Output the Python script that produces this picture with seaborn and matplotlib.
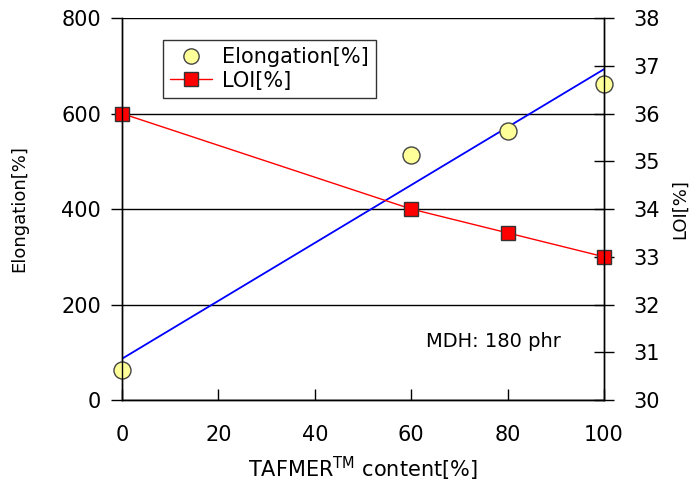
import matplotlib
matplotlib.use("Agg")
import matplotlib.pyplot as plt
import numpy as np
import pandas as pd
import seaborn as sns
from matplotlib.lines import Line2D

# data
content = [0, 60, 80, 100]
elongation = [63, 513, 563, 662]
loi = [36.0, 34.0, 33.5, 33.0]

df = pd.DataFrame({"content": content, "elongation": elongation, "loi": loi})

sns.set_theme(style="white")
plt.rcParams['font.family'] = ['DejaVu Sans']
plt.rcParams['text.color'] = 'black'
plt.rcParams['axes.labelcolor'] = 'black'
plt.rcParams['xtick.color'] = 'black'
plt.rcParams['ytick.color'] = 'black'

fig = plt.figure(figsize=(6.97, 4.87), dpi=100)
ax = fig.add_axes([0.175, 0.1786, 0.6916, 0.7844])
ax2 = ax.twinx()

# trend line for elongation (least squares on the points)
sns.regplot(data=df, x="content", y="elongation", ax=ax, scatter=False, ci=None,
            line_kws=dict(color="#0000ff", lw=1.3, zorder=3))
sns.scatterplot(data=df, x="content", y="elongation", ax=ax, marker="o", s=150,
                color="#ffff99", edgecolor="#444444", linewidth=1.0, zorder=4,
                clip_on=False)

sns.lineplot(data=df, x="content", y="loi", ax=ax2, color="#ff0000", lw=1.0,
             marker="s", markersize=10, markerfacecolor="#ff0000",
             markeredgecolor="#333333", markeredgewidth=1.0, clip_on=False)

ax.set_xlim(0, 100)
ax.set_ylim(0, 800)
ax2.set_ylim(30, 38)
ax.set_xticks(range(0, 101, 20))
ax.set_yticks(range(0, 801, 200))
ax2.set_yticks(range(30, 39))

ax.yaxis.grid(True, color="black", lw=1.0)
ax.xaxis.grid(False)
ax.set_axisbelow(True)

for a in (ax, ax2):
    a.spines['top'].set_visible(False)
    for s in ('left', 'right', 'bottom'):
        a.spines[s].set_color("black")
        a.spines[s].set_linewidth(1.0)

ax.tick_params(axis='x', direction='in', length=8, width=1,
               labelsize=15, pad=18, bottom=True)
ax.tick_params(axis='y', direction='out', length=8, width=1,
               labelsize=15, pad=7, left=True)
ax2.tick_params(axis='y', direction='inout', length=14, width=1,
                labelsize=15, pad=14, right=True)

ax.set_xlabel(r"TAFMER$^{\mathrm{TM}}$ content[%]", fontsize=15, labelpad=7)
ax.set_ylabel("Elongation[%]", fontsize=13, labelpad=24)
ax2.set_ylabel("LOI[%]", fontsize=13, labelpad=8, rotation=90)

ax.text(0.63, 0.14, "MDH: 180 phr", transform=ax.transAxes, fontsize=14)

handles = [
    Line2D([], [], ls="none", marker="o", markersize=11, markerfacecolor="#ffff99",
           markeredgecolor="#444444"),
    Line2D([], [], color="#ff0000", lw=1.0, marker="s", markersize=10,
           markerfacecolor="#ff0000", markeredgecolor="#333333"),
]
leg = ax2.legend(handles, ["Elongation[%]", "LOI[%]"], loc="upper left",
                 bbox_to_anchor=(0.085, 0.942), fontsize=15, frameon=True,
                 fancybox=False, borderpad=0.35, labelspacing=0.15,
                 handlelength=2.0, handletextpad=0.5, borderaxespad=0)
leg.get_frame().set_edgecolor("black")
leg.get_frame().set_linewidth(1.0)

fig.savefig("out.png", dpi=100)
